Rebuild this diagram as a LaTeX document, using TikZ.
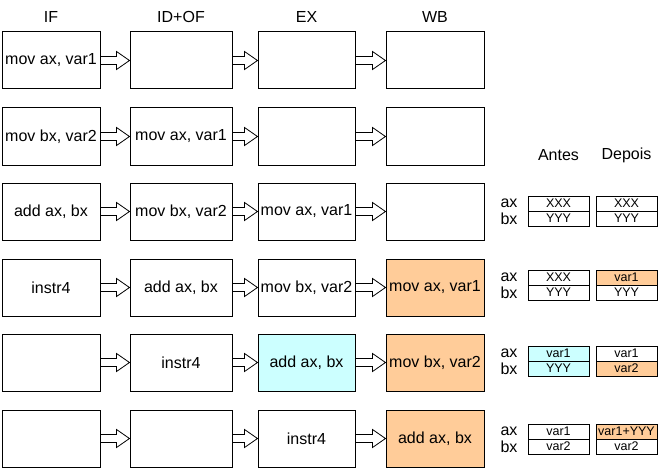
\documentclass[tikz,border=0pt]{standalone}
\usepackage{fontspec}
\setmainfont{Liberation Sans}
\usetikzlibrary{calc}
\definecolor{peach}{HTML}{FFCC99}
\definecolor{paleblue}{HTML}{CCFFFF}
\tikzset{
	stage/.style={draw, line width=1pt, minimum width=98pt, minimum height=57pt, inner sep=0pt, font=\fontsize{16}{19}\selectfont},
	cell/.style={draw, line width=1pt, minimum width=61pt, minimum height=15pt, inner sep=0pt, font=\fontsize{12.5}{14}\selectfont},
	head/.style={font=\fontsize{16}{19}\selectfont, inner sep=0pt},
	reg/.style={font=\fontsize{16}{19}\selectfont, inner sep=0pt}
}
% hollow arrow from one box to the next
\newcommand{\pipeto}[2]{%
	\draw[line width=.8pt, line join=miter] ($(#1.east)+(0,4)$) -- ($(#2.west)+(-13,4)$) -- ($(#2.west)+(-13,9)$) -- (#2.west) -- ($(#2.west)+(-13,-9)$) -- ($(#2.west)+(-13,-4)$) -- ($(#1.east)+(0,-4)$);}
\begin{document}
\begin{tikzpicture}[x=1pt, y=-1pt]
		\useasboundingbox (0,0) rectangle (658,468);
		% headers
		\node[head] (hIF) at (51,17) {IF};
		\node[head] (hID) at (181,17) {ID+OF};
		\node[head] (hEX) at (306.5,17) {EX};
		\node[head] (hWB) at (435,17) {WB};
		\node[head] (hantes) at (558.5,155) {Antes};
		\node[head] (hdepois) at (626.5,155) {Depois};
		% row 1
		\node[stage] (s11) at (51,60.5) {mov ax, var1};
		\node[stage, minimum width=102pt] (s12) at (181,60.5) {};
		\node[stage, minimum width=97pt] (s13) at (306.5,60.5) {};
		\node[stage] (s14) at (435,60.5) {};
		% row 2
		\node[stage] (s21) at (51,136.5) {mov bx, var2};
		\node[stage, minimum width=102pt] (s22) at (181,136.5) {mov ax, var1};
		\node[stage, minimum width=97pt] (s23) at (306.5,136.5) {};
		\node[stage] (s24) at (435,136.5) {};
		% row 3
		\node[stage] (s31) at (51,211.5) {add ax, bx};
		\node[stage, minimum width=102pt] (s32) at (181,211.5) {mov bx, var2};
		\node[stage, minimum width=97pt] (s33) at (306.5,211.5) {mov ax, var1};
		\node[stage] (s34) at (435,211.5) {};
		% row 4
		\node[stage] (s41) at (51,287.5) {instr4};
		\node[stage, minimum width=102pt] (s42) at (181,287.5) {add ax, bx};
		\node[stage, minimum width=97pt] (s43) at (306.5,287.5) {mov bx, var2};
		\node[stage, fill=peach] (s44) at (435,287.5) {mov ax, var1};
		% row 5
		\node[stage] (s51) at (51,362.5) {};
		\node[stage, minimum width=102pt] (s52) at (181,362.5) {instr4};
		\node[stage, minimum width=97pt, fill=paleblue] (s53) at (306.5,362.5) {add ax, bx};
		\node[stage, fill=peach] (s54) at (435,362.5) {mov bx, var2};
		% row 6
		\node[stage] (s61) at (51,438.5) {};
		\node[stage, minimum width=102pt] (s62) at (181,438.5) {};
		\node[stage, minimum width=97pt] (s63) at (306.5,438.5) {instr4};
		\node[stage, fill=peach] (s64) at (435,438.5) {add ax, bx};
		\foreach \r in {1,...,6}{
			\pipeto{s\r1}{s\r2}
			\pipeto{s\r2}{s\r3}
			\pipeto{s\r3}{s\r4}
		}
		% registers, row 3
		\node[reg] (ax3) at (509,203.5) {ax};
		\node[reg] (bx3) at (509,218.5) {bx};
		\node[cell] (a3ax) at (558.5,203.5) {XXX};
		\node[cell] (a3bx) at (558.5,218.5) {YYY};
		\node[cell] (d3ax) at (626.5,203.5) {XXX};
		\node[cell] (d3bx) at (626.5,218.5) {YYY};
		% registers, row 4
		\node[reg] (ax4) at (509,277.5) {ax};
		\node[reg] (bx4) at (509,292.5) {bx};
		\node[cell] (a4ax) at (558.5,277.5) {XXX};
		\node[cell] (a4bx) at (558.5,292.5) {YYY};
		\node[cell, fill=peach] (d4ax) at (626.5,277.5) {var1};
		\node[cell] (d4bx) at (626.5,292.5) {YYY};
		% registers, row 5
		\node[reg] (ax5) at (509,353.5) {ax};
		\node[reg] (bx5) at (509,368.5) {bx};
		\node[cell, fill=paleblue] (a5ax) at (558.5,353.5) {var1};
		\node[cell, fill=paleblue] (a5bx) at (558.5,368.5) {YYY};
		\node[cell] (d5ax) at (626.5,353.5) {var1};
		\node[cell, fill=peach] (d5bx) at (626.5,368.5) {var2};
		% registers, row 6
		\node[reg] (ax6) at (509,431.5) {ax};
		\node[reg] (bx6) at (509,446.5) {bx};
		\node[cell] (a6ax) at (558.5,431.5) {var1};
		\node[cell] (a6bx) at (558.5,446.5) {var2};
		\node[cell, fill=peach] (d6ax) at (626.5,431.5) {var1+YYY};
		\node[cell] (d6bx) at (626.5,446.5) {var2};
\end{tikzpicture}
\end{document}
